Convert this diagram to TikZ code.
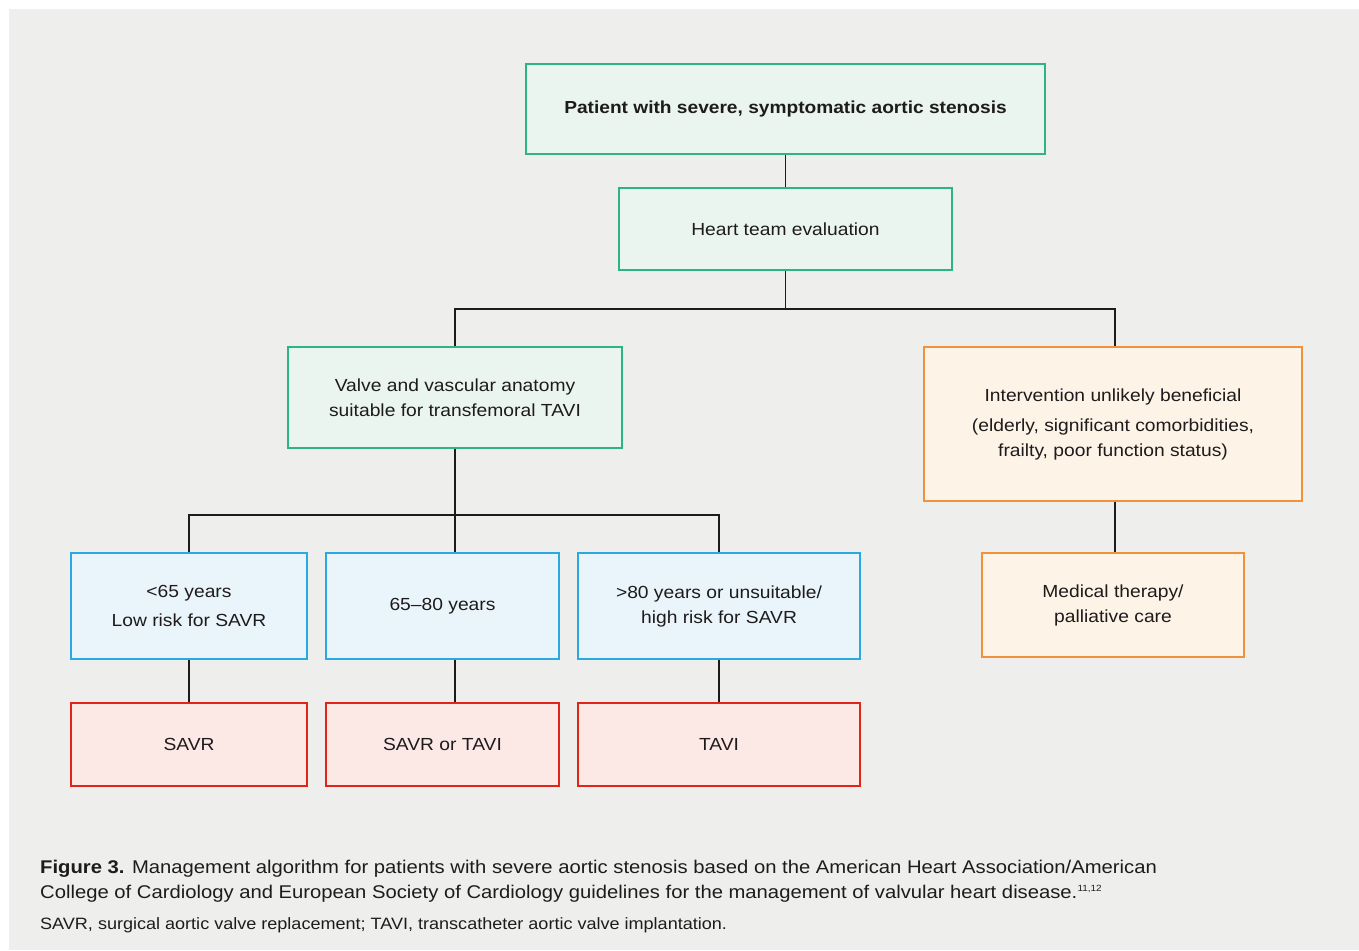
\documentclass[tikz,border=0pt]{standalone}
\usepackage{fontspec}
\setmainfont[FakeStretch=1.1]{Liberation Sans}
\definecolor{bgc}{HTML}{EEEEEC}
\definecolor{txt}{HTML}{1E1B1C}
\definecolor{gfill}{HTML}{EAF5F0}
\definecolor{gdraw}{HTML}{2DB386}
\definecolor{bfill}{HTML}{EAF5FB}
\definecolor{bdraw}{HTML}{29A9E0}
\definecolor{rfill}{HTML}{FCE9E6}
\definecolor{rdraw}{HTML}{E2231A}
\definecolor{ofill}{HTML}{FDF3E7}
\definecolor{odraw}{HTML}{F0923C}
\tikzset{
  box/.style={draw, line width=1.2pt, inner sep=0pt, align=center, text=txt,
    font=\fontsize{17.5}{25}\selectfont},
  gbox/.style={box, draw=gdraw, fill=gfill},
  bbox/.style={box, draw=bdraw, fill=bfill},
  rbox/.style={box, draw=rdraw, fill=rfill},
  obox/.style={box, draw=odraw, fill=ofill},
  conn/.style={draw=txt, line width=1.2pt},
  captext/.style={anchor=base west, inner sep=0pt, text=txt}
}
\begin{document}
\begin{tikzpicture}[x=1pt,y=-1pt]
\useasboundingbox (0,0) rectangle (1359,950);
\fill[white] (0,0) rectangle (1359,950);
\fill[bgc] (9,9) rectangle (1359,950);

\node[gbox, minimum width=519pt, minimum height=90pt, font=\fontsize{17.4}{25}\selectfont\bfseries] (top) at (785.5,109) {Patient with severe, symptomatic aortic stenosis};
\node[gbox, minimum width=333pt, minimum height=82pt] (heart) at (785.5,229) {Heart team evaluation};
\node[gbox, minimum width=334pt, minimum height=101pt] (valve) at (455,397.5) {Valve and vascular anatomy\\suitable for transfemoral TAVI};
\node[obox, minimum width=378pt, minimum height=154pt] (interv) at (1113,424) {Intervention unlikely beneficial\\[5pt](elderly, significant comorbidities,\\frailty, poor function status)};
\node[obox, minimum width=262pt, minimum height=104pt] (med) at (1113,605) {Medical therapy/\\palliative care};

\node[bbox, minimum width=236pt, minimum height=106pt] (b1) at (189,606) {\textless65 years\\[4pt]Low risk for SAVR};
\node[bbox, minimum width=233pt, minimum height=106pt] (b2) at (442.5,606) {65–80 years};
\node[bbox, minimum width=282pt, minimum height=106pt] (b3) at (719,606) {\textgreater80 years or unsuitable/\\high risk for SAVR};

\node[rbox, minimum width=236pt, minimum height=83pt] (c1) at (189,744.5) {SAVR};
\node[rbox, minimum width=233pt, minimum height=83pt] (c2) at (442.5,744.5) {SAVR or TAVI};
\node[rbox, minimum width=282pt, minimum height=83pt] (c3) at (719,744.5) {TAVI};

\coordinate (j1) at (785.5,309);
\coordinate (j2) at (455,515);
\coordinate (j3) at (1115,309);

\draw[conn] (top.south) -- (heart.north);
\draw[conn] (heart.south) -- (j1) -| (valve.north);
\draw[conn] (j1) -- (j3) -- (j3 |- interv.north);
\draw[conn] (j3 |- interv.south) -- (j3 |- med.north);
\draw[conn] (valve.south) -- (j2);
\draw[conn] (j2) -| (b1.north);
\draw[conn] (j2) -| (b3.north);
\draw[conn] (j2) -- (j2 |- b2.north);
\draw[conn] (b1.south) -- (c1.north);
\draw[conn] (j2 |- b2.south) -- (j2 |- c2.north);
\draw[conn] (b3.south) -- (c3.north);

\node[captext, font=\fontsize{18.4}{25}\selectfont] (cap1) at (40,873) {\textbf{Figure 3.} Management algorithm for patients with severe aortic stenosis based on the American Heart Association/American};
\node[captext, font=\fontsize{18.4}{25}\selectfont] (cap2) at (40,898) {College of Cardiology and European Society of Cardiology guidelines for the management of valvular heart disease.\textsuperscript{\fontsize{9}{9}\selectfont 11,12}};
\node[captext, font=\fontsize{16.4}{20}\selectfont] (note) at (40,929) {SAVR, surgical aortic valve replacement; TAVI, transcatheter aortic valve implantation.};
\end{tikzpicture}
\end{document}
